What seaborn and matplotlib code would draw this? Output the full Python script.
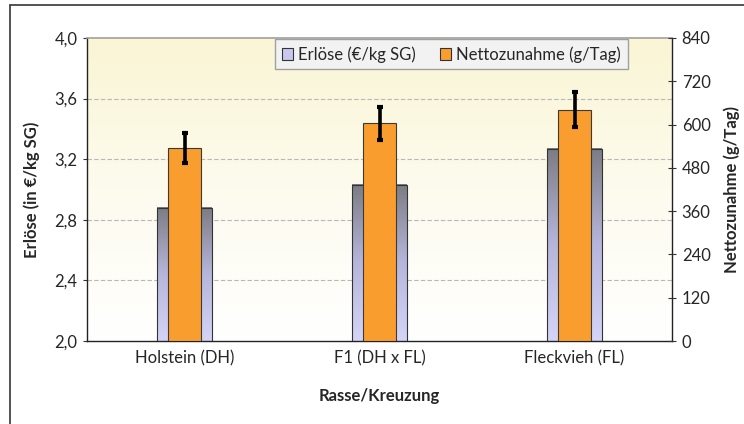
import numpy as np
import pandas as pd
import matplotlib
matplotlib.use("Agg")
import matplotlib.pyplot as plt
import seaborn as sns
from matplotlib.colors import LinearSegmentedColormap
from matplotlib.patches import Patch
from matplotlib.lines import Line2D

# ---- data ----
categories = ["Holstein (DH)", "F1 (DH x FL)", "Fleckvieh (FL)"]
erloese = [2.88, 3.03, 3.27]            # €/kg SG (left axis)
zunahme = [535, 604, 641]               # g/Tag (right axis)
zunahme_err = [41, 46, 48]
left_ticks = [2.0, 2.4, 2.8, 3.2, 3.6, 4.0]
left_ticklabels = ["2,0", "2,4", "2,8", "3,2", "3,6", "4,0"]
right_ticks = [0, 120, 240, 360, 480, 600, 720, 840]

df = pd.DataFrame({"Rasse": categories, "Erloese": erloese, "Zunahme": zunahme})

sns.set_style("white")
plt.rcParams["font.family"] = ["Lato", "DejaVu Sans"]

W, H = 744, 424
YMIN, YMAX = 2.0, 4.0
fig = plt.figure(figsize=(W / 100, H / 100), dpi=100)
ax = fig.add_axes([87 / W, 1 - 341 / H, 585 / W, 303 / H])

# grey/lavender bars (left axis)
sns.barplot(data=df, x="Rasse", y="Erloese", ax=ax, width=0.28, color="#c8c8ee",
            saturation=1, edgecolor="#333333", linewidth=0.8, zorder=3)
ax.set_xlim(-0.5, 2.5)
ax.set_ylim(YMIN, YMAX)

# gradient fill on grey bars (visible part only)
bar_cmap = LinearSegmentedColormap.from_list("bar", ["#d4d4f8", "#b6b6dc", "#7c7c84"])
grad = np.linspace(0, 1, 256).reshape(-1, 1)
for p in list(ax.patches):
    bb = p.get_bbox()
    ax.imshow(grad, extent=[bb.x0, bb.x1, max(bb.y0, YMIN), bb.y1], origin="lower",
              aspect="auto", cmap=bar_cmap, zorder=2.5)
    p.set_facecolor("none")
    p.set_zorder(3)

# background gradient
bg_cmap = LinearSegmentedColormap.from_list("bg", ["#ffffff", "#fdfbee", "#faf5d4"])
ax.imshow(grad, extent=[0, 1, 0, 1], transform=ax.transAxes, origin="lower",
          aspect="auto", cmap=bg_cmap, zorder=0)
ax.set_xlim(-0.5, 2.5)
ax.set_ylim(YMIN, YMAX)

ax.set_yticks(left_ticks)
ax.set_yticklabels(left_ticklabels, fontsize=12)
for yv in left_ticks[1:-1]:
    ax.axhline(yv, color="#b8b8b8", lw=0.8, ls=(0, (4, 2)), zorder=1)

ax.set_xticks(range(len(categories)))
ax.set_xticklabels(categories, fontsize=12)
ax.tick_params(axis="x", which="major", length=0, pad=7)
ax.set_xticks([0.5, 1.5], minor=True)
ax.tick_params(axis="x", which="minor", length=4, direction="out", color="#555555")
ax.tick_params(axis="y", length=3, direction="out", color="#333333", pad=4)

ax.set_xlabel("Rasse/Kreuzung", fontsize=12, fontweight="bold", labelpad=15)
ax.set_ylabel("Erlöse (in €/kg SG)", fontsize=12, fontweight="bold", labelpad=10)

for s in ["left", "bottom", "right"]:
    ax.spines[s].set_color("#222222")
    ax.spines[s].set_linewidth(1.0)
ax.spines["top"].set_color("#a0a0a0")
ax.spines["top"].set_linewidth(1.2)

# orange bars (right axis)
ax2 = ax.twinx()
sns.barplot(data=df, x="Rasse", y="Zunahme", ax=ax2, width=0.165, color="#f99d2f",
            saturation=1, edgecolor="#3a3a3a", linewidth=0.8, zorder=3)
ax2.errorbar(range(len(categories)), zunahme, yerr=zunahme_err, fmt="none",
             ecolor="black", elinewidth=2.6, capsize=2, capthick=3, zorder=4)
ax2.set_xlim(-0.5, 2.5)
ax2.set_ylim(0, 840)
ax2.set_yticks(right_ticks)
ax2.set_yticklabels([str(t) for t in right_ticks], fontsize=12)
ax2.tick_params(axis="y", length=6, direction="inout", color="#333333", pad=4)
ax2.set_ylabel("Nettozunahme (g/Tag)", fontsize=12, fontweight="bold", labelpad=9)
ax2.set_xlabel("")
for s in ["left", "bottom", "right", "top"]:
    ax2.spines[s].set_visible(False)

handles = [Patch(facecolor="#c8c8ee", edgecolor="#333333", lw=0.8, label="Erlöse (€/kg SG)"),
           Patch(facecolor="#f99d2f", edgecolor="#333333", lw=0.8, label="Nettozunahme (g/Tag)")]
leg = ax2.legend(handles=handles, ncol=2, loc="upper right",
                 bbox_to_anchor=(636 / W, 1 - 31 / H), bbox_transform=fig.transFigure,
                 fontsize=12, frameon=True, fancybox=False, framealpha=1,
                 facecolor="#f2f2f2", edgecolor="#a0a0a0", handlelength=0.7,
                 handleheight=0.7, handletextpad=0.3, columnspacing=1.4,
                 borderpad=0.4)
leg.get_frame().set_linewidth(1.0)
leg.set_zorder(10)

# outer frame (partially visible)
fig.add_artist(Line2D([10 / W, 10 / W], [0, 1 - 5 / H], color="#444444", lw=1.3))
fig.add_artist(Line2D([10 / W, 1], [1 - 5 / H, 1 - 5 / H], color="#444444", lw=1.3))

fig.savefig("out.png", dpi=100)
